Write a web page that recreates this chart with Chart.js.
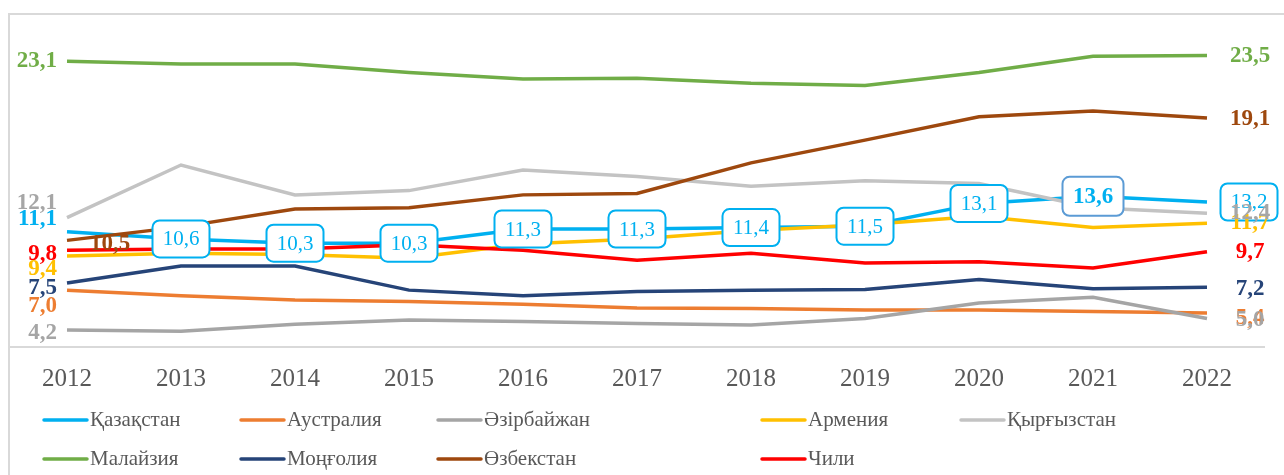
<!DOCTYPE html>
<html lang="kk">
<head>
  <meta charset="UTF-8">
  <title>Елдер бойынша көрсеткіш, 2012-2022</title>
  <script src="https://cdn.jsdelivr.net/npm/chart.js"></script>
  <style>
    html, body { margin: 0; padding: 0; background: #fff; }
    #wrap { width: 1284px; height: 475px; position: relative; }
  </style>
</head>
<body>
  <div id="wrap"><canvas id="trendChart"></canvas></div>

  <script>
    const years = ['2012','2013','2014','2015','2016','2017','2018','2019','2020','2021','2022'];

    const kazakhstan = [11.1, 10.6, 10.3, 10.3, 11.3, 11.3, 11.4, 11.5, 13.1, 13.6, 13.2];
    const australia  = [7.0, 6.6, 6.3, 6.2, 6.0, 5.75, 5.7, 5.6, 5.6, 5.5, 5.4];
    const azerbaijan = [4.2, 4.1, 4.6, 4.9, 4.8, 4.65, 4.55, 5.0, 6.1, 6.5, 5.0];
    const armenia    = [9.4, 9.6, 9.5, 9.25, 10.25, 10.6, 11.2, 11.6, 12.2, 11.4, 11.7];
    const kyrgyzstan = [12.1, 15.8, 13.7, 14.0, 15.45, 15.0, 14.3, 14.7, 14.5, 12.8, 12.4];
    const malaysia   = [23.1, 22.9, 22.9, 22.3, 21.85, 21.9, 21.55, 21.4, 22.3, 23.45, 23.5];
    const mongolia   = [7.5, 8.7, 8.7, 7.0, 6.6, 6.9, 7.0, 7.05, 7.75, 7.1, 7.2];
    const uzbekistan = [10.5, 11.45, 12.7, 12.8, 13.7, 13.8, 15.95, 17.55, 19.2, 19.6, 19.1];
    const chile      = [9.8, 9.9, 9.9, 10.2, 9.8, 9.1, 9.6, 8.9, 9.0, 8.55, 9.7];

    const names  = ['Қазақстан','Аустралия','Әзірбайжан','Армения','Қырғызстан','Малайзия','Моңғолия','Өзбекстан','Чили'];
    const series = [kazakhstan, australia, azerbaijan, armenia, kyrgyzstan, malaysia, mongolia, uzbekistan, chile];
    const colors = ['#00b0f0','#ed7d31','#a5a5a5','#ffc000','#c3c3c3','#70ad47','#264478','#9e480e','#ff0000'];
    const textColors = ['#00b0f0','#ed7d31','#a5a5a5','#ffc000','#a6a6a6','#70ad47','#264478','#9e480e','#ff0000'];

    // small vertical nudges so the end labels don't sit on top of each other
    const leftNudge  = [-13, 16, 3, 13, -15, 0, 5, 4, 4];
    const rightNudge = [0, 5, 1, 0, 0, 1, 2, 1, 0];

    const SERIF = '"Liberation Serif", "Times New Roman", serif';
    const fmt = v => v.toFixed(1).replace('.', ',');

    const frame = {
      id: 'frame',
      beforeDraw(chart) {
        const ctx = chart.ctx;
        ctx.save();
        ctx.strokeStyle = '#d9d9d9';
        ctx.lineWidth = 2;
        ctx.beginPath();
        ctx.moveTo(9, chart.height);
        ctx.lineTo(9, 14);
        ctx.lineTo(chart.width, 14);
        ctx.stroke();
        ctx.restore();
      }
    };

    const labels = {
      id: 'labels',
      afterDatasetsDraw(chart) {
        const ctx = chart.ctx;
        ctx.save();
        ctx.textBaseline = 'middle';

        // Қазақстан: first value plain, the rest in callout boxes
        const kz = chart.getDatasetMeta(0).data;
        ctx.font = 'bold 23px ' + SERIF;
        ctx.fillStyle = textColors[0];
        ctx.textAlign = 'right';
        ctx.fillText(fmt(kazakhstan[0]), kz[0].x - 10, kz[0].y + leftNudge[0]);

        const peak = kazakhstan.indexOf(Math.max(...kazakhstan));
        for (let j = 1; j < kazakhstan.length; j++) {
          const isPeak = j === peak;
          const isLast = j === kazakhstan.length - 1;
          const w = isPeak ? 61 : 57, h = isPeak ? 39 : 37;
          const cx = isLast ? kz[j].x + 42 : kz[j].x;
          const cy = kz[j].y;
          ctx.beginPath();
          ctx.roundRect(cx - w / 2, cy - h / 2, w, h, 7);
          ctx.fillStyle = '#fff';
          ctx.fill();
          ctx.lineWidth = 2;
          ctx.strokeStyle = isPeak ? '#5b9bd5' : '#00b0f0';
          ctx.stroke();
          ctx.font = (isPeak ? 'bold 23px ' : '21px ') + SERIF;
          ctx.fillStyle = '#00b0f0';
          ctx.textAlign = 'center';
          ctx.fillText(fmt(kazakhstan[j]), cx, cy + 1);
        }

        series.forEach((vals, i) => {
          if (i === 0) return;
          const pts = chart.getDatasetMeta(i).data;
          const last = vals.length - 1;
          ctx.font = 'bold 23px ' + SERIF;
          ctx.fillStyle = textColors[i];
          if (i === 7) {
            // Өзбекстан: first label sits to the right of the point
            ctx.textAlign = 'center';
            ctx.fillText(fmt(vals[0]), pts[0].x + 43, pts[0].y + leftNudge[i]);
          } else {
            ctx.textAlign = 'right';
            ctx.fillText(fmt(vals[0]), pts[0].x - 10, pts[0].y + leftNudge[i]);
          }
          ctx.textAlign = 'center';
          ctx.fillText(fmt(vals[last]), pts[last].x + 43, pts[last].y + rightNudge[i]);
        });
        ctx.restore();
      }
    };

    const legendCols = [44, 241, 438, 762, 961];
    const legendRows = [420, 459];
    const customLegend = {
      id: 'customLegend',
      afterDraw(chart) {
        const ctx = chart.ctx;
        ctx.save();
        ctx.font = '21px ' + SERIF;
        ctx.textBaseline = 'middle';
        ctx.textAlign = 'left';
        names.forEach((name, i) => {
          const x = legendCols[i % 5];
          const y = legendRows[Math.floor(i / 5)];
          ctx.strokeStyle = colors[i];
          ctx.lineWidth = 3.5;
          ctx.lineCap = 'round';
          ctx.beginPath();
          ctx.moveTo(x, y);
          ctx.lineTo(x + 43, y);
          ctx.stroke();
          ctx.fillStyle = '#595959';
          ctx.fillText(name, x + 46, y);
        });
        ctx.restore();
      }
    };

    const datasets = series.map((vals, i) => ({
      label: names[i],
      data: vals,
      borderColor: colors[i],
      backgroundColor: colors[i],
      borderWidth: 3.5,
      pointRadius: 0,
      tension: 0,
      fill: false,
      clip: false,
      order: series.length - i
    }));

    new Chart(document.getElementById('trendChart'), {
      type: 'line',
      data: { labels: years, datasets: datasets },
      options: {
        responsive: true,
        maintainAspectRatio: false,
        animation: false,
        layout: { padding: { left: 10, right: 20, top: 20, bottom: 78 } },
        plugins: {
          legend: { display: false },
          tooltip: { enabled: false }
        },
        scales: {
          x: {
            offset: true,
            grid: { display: false, drawTicks: false },
            border: { display: true, color: '#d9d9d9', width: 2 },
            ticks: {
              color: '#595959',
              padding: 17,
              font: { family: SERIF, size: 25 }
            },
            afterFit(scale) { scale.height = 50; }
          },
          y: {
            display: false,
            min: 3,
            max: 26
          }
        }
      },
      plugins: [frame, labels, customLegend]
    });
  </script>
</body>
</html>
